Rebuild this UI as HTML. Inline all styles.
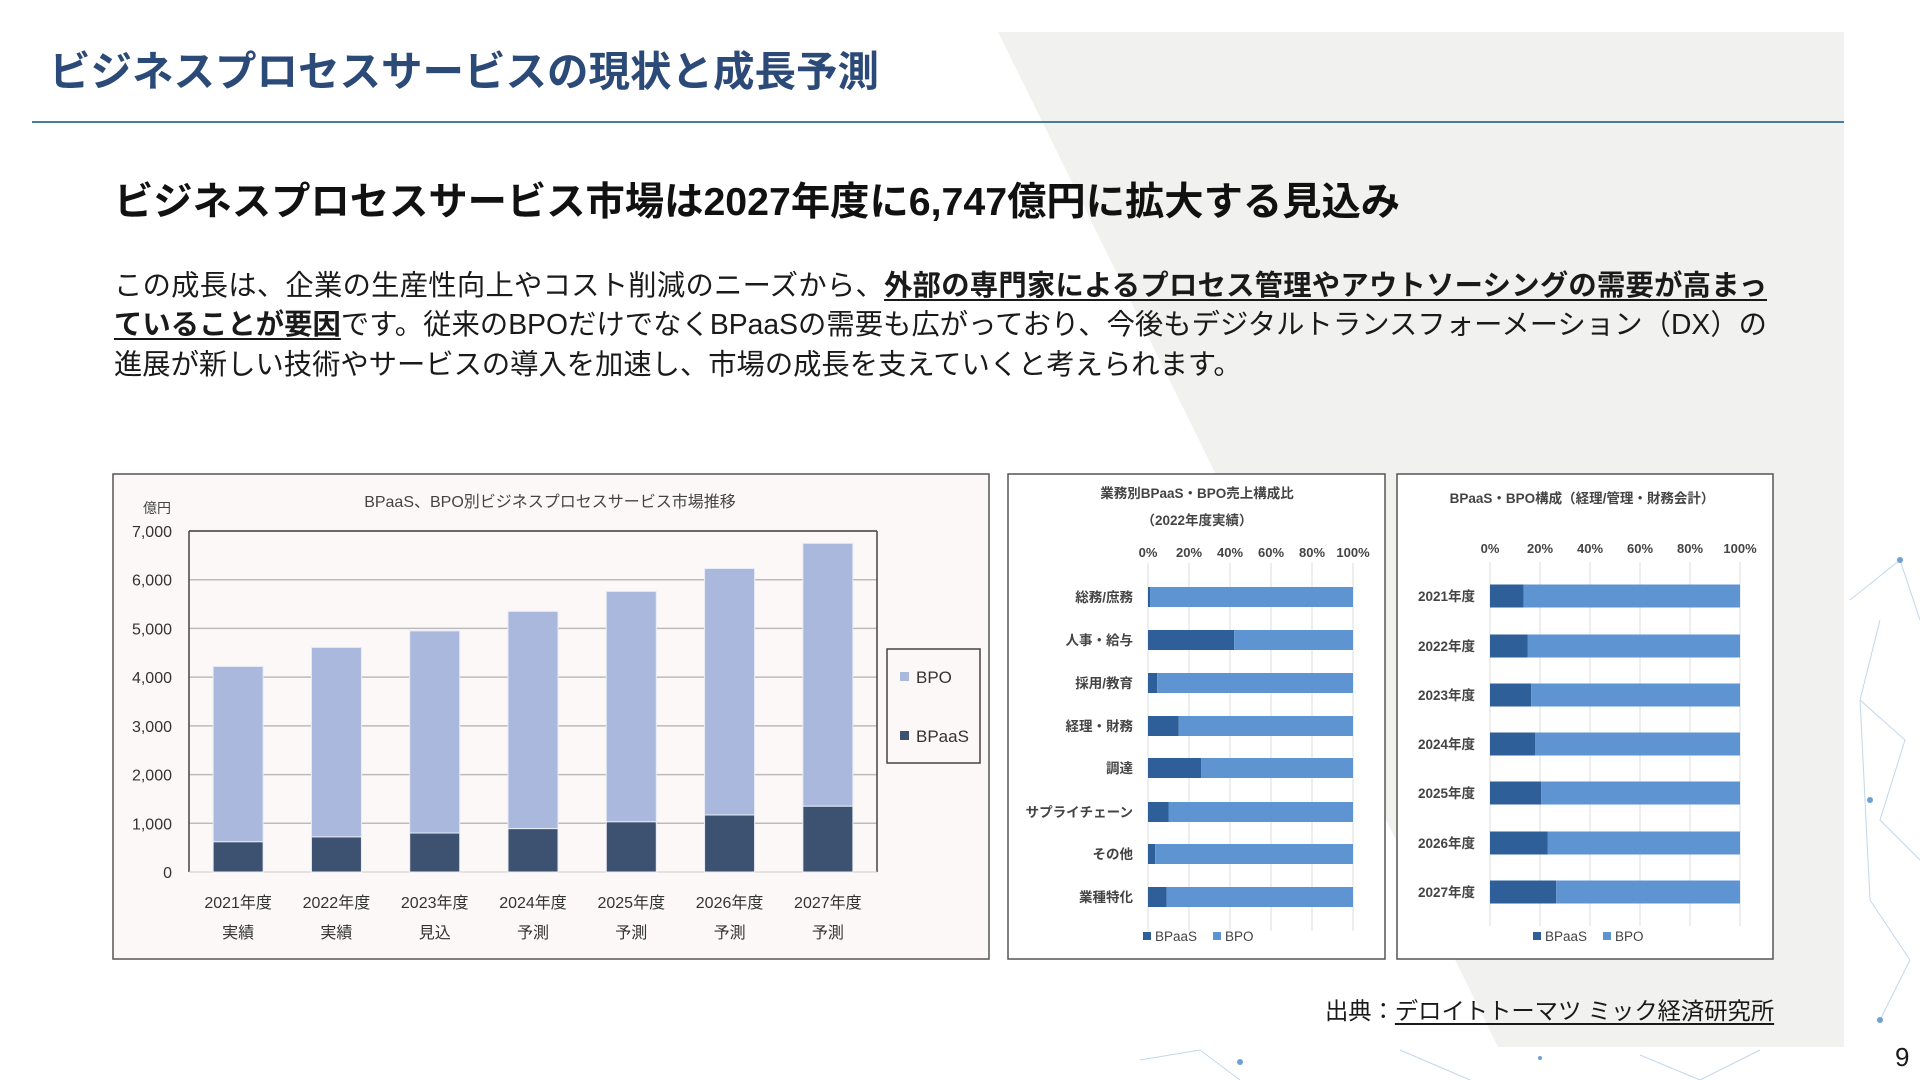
<!DOCTYPE html>
<html><head><meta charset="utf-8">
<style>
*{margin:0;padding:0;box-sizing:border-box}
body{width:1920px;height:1080px;position:relative;overflow:hidden;background:#fff;font-family:"Liberation Sans","Noto Sans CJK JP",sans-serif;color:#1a1a1a}
.abs{position:absolute}
.line{position:absolute;left:114px;width:1653px;font-size:28.3px;line-height:39px;text-align:justify;text-align-last:justify;white-space:nowrap}
u{text-decoration-thickness:2px;text-underline-offset:4px}
</style></head><body>
<svg class="abs" style="left:0;top:0" width="1920" height="1080">
<polygon points="998,32 1844,32 1844,1047 1498,1047" fill="#f1f1ef"/>
<g stroke="#a9c4e0" stroke-width="1" opacity="0.7" fill="none">
<path d="M1850,600 L1900,560 L1920,620 M1860,700 L1905,740 L1880,820 L1920,860 M1870,900 L1910,960 L1880,1020 M1140,1060 L1200,1050 L1240,1080 M1400,1050 L1470,1080 M1640,1055 L1700,1080 L1760,1050 M1880,620 L1860,700 L1870,900"/>
</g>
<g fill="#6fa0d6"><circle cx="1900" cy="560" r="3"/><circle cx="1870" cy="800" r="3"/><circle cx="1880" cy="1020" r="3"/><circle cx="1240" cy="1062" r="3"/><circle cx="1540" cy="1058" r="2"/></g>
<line x1="32" y1="122" x2="1844" y2="122" stroke="#4a7ca0" stroke-width="2"/>
</svg>
<div class="abs" style="left:49px;top:45px;font-size:41.5px;font-weight:bold;color:#2b4a78;line-height:54px">ビジネスプロセスサービスの現状と成長予測</div>
<div class="abs" style="left:114px;top:177px;font-size:39.3px;font-weight:bold;line-height:50px;color:#111">ビジネスプロセスサービス市場は2027年度に6,747億円に拡大する見込み</div>
<div class="line" style="top:266px">この成長は、企業の生産性向上やコスト削減のニーズから、<u><b>外部の専門家によるプロセス管理やアウトソーシングの需要が高まっ</b></u></div>
<div class="line" style="top:305px"><u><b>ていることが要因</b></u>です。従来のBPOだけでなくBPaaSの需要も広がっており、今後もデジタルトランスフォーメーション（DX）の</div>
<div class="line" style="top:345px;text-align-last:left">進展が新しい技術やサービスの導入を加速し、市場の成長を支えていくと考えられます。</div>
<div class="abs" style="left:1325px;top:995px;font-size:23.3px;line-height:32px">出典：<u>デロイトトーマツ ミック経済研究所</u></div>
<div class="abs" style="left:1895px;top:1042px;font-size:26px">9</div>

<svg id="c1" class="abs" style="left:0;top:0" width="1920" height="1080"></svg>

<script>
const years=["2021年度","2022年度","2023年度","2024年度","2025年度","2026年度","2027年度"];
const yearSub=["実績","実績","見込","予測","予測","予測","予測"];
const totals=[4220,4610,4950,5350,5760,6230,6747];
const bpaas=[620,720,800,890,1030,1170,1350];
const yTicks=[0,1000,2000,3000,4000,5000,6000,7000];
const yTickLabels=["0","1,000","2,000","3,000","4,000","5,000","6,000","7,000"];
const cats2=["総務/庶務","人事・給与","採用/教育","経理・財務","調達","サプライチェーン","その他","業種特化"];
const share2=[1,42,4.5,15,26,10,3.5,9];
const cats3=["2021年度","2022年度","2023年度","2024年度","2025年度","2026年度","2027年度"];
const share3=[13.5,15,16.5,18,20.5,23,26.5];
const pctTicks=[0,20,40,60,80,100];

const NS="http://www.w3.org/2000/svg";
const svg=document.getElementById('c1');
function mk(tag,attrs,txt,parent){const e=document.createElementNS(NS,tag);for(const k in attrs)e.setAttribute(k,attrs[k]);if(txt!==undefined)e.textContent=txt;(parent||svg).appendChild(e);return e;}
const F='"Liberation Sans","Noto Sans CJK JP",sans-serif';

// ---- chart 1 ----
let g=mk('g',{});


mk('rect',{x:113,y:474,width:876,height:485,fill:'#fcf8f8',stroke:'#555','stroke-width':1.5},undefined,g);
const L=189,R=877,T=531,B=872,yMax=7000;
const ys=v=>B-(v/yMax)*(B-T);
const bw=(R-L)/years.length;
yTicks.forEach((v,i)=>{
  if(v>0){const gl=mk('line',{x1:L,x2:R,y1:ys(v),y2:ys(v),stroke:'#bbb','stroke-width':1.5},undefined,g);
  }
  const t=mk('text',{x:172,y:ys(v)+6,'text-anchor':'end','font-size':16,fill:'#333','font-family':F},yTickLabels[i],g);
  
});
mk('line',{x1:L,x2:L,y1:T,y2:B,stroke:'#444','stroke-width':1.5},undefined,g);
mk('line',{x1:L,x2:R,y1:T,y2:T,stroke:'#444','stroke-width':1.5},undefined,g);
mk('line',{x1:R,x2:R,y1:T,y2:B,stroke:'#444','stroke-width':1.5},undefined,g);
mk('line',{x1:L,x2:R,y1:B,y2:B,stroke:'#ccc','stroke-width':1},undefined,g);
years.forEach((yr,i)=>{
  const cx=L+bw*(i+0.5),w=50;
  const r1=mk('rect',{x:cx-w/2,y:ys(totals[i]),width:w,height:ys(bpaas[i])-ys(totals[i]),fill:'#a9b8dc',stroke:'#e8ecf5','stroke-width':1},undefined,g);
  
  const r2=mk('rect',{x:cx-w/2,y:ys(bpaas[i]),width:w,height:B-ys(bpaas[i]),fill:'#3d5170',stroke:'#e8ecf5','stroke-width':1},undefined,g);
  
  const t1=mk('text',{x:cx,y:908,'text-anchor':'middle','font-size':16,fill:'#333','font-family':F},yr,g);
  
  const t2=mk('text',{x:cx,y:938,'text-anchor':'middle','font-size':16,fill:'#333','font-family':F},yearSub[i],g);
  
});
let t=mk('text',{x:550,y:507,'text-anchor':'middle','font-size':16,fill:'#444','font-family':F},'BPaaS、BPO別ビジネスプロセスサービス市場推移',g);

t=mk('text',{x:157,y:513,'text-anchor':'middle','font-size':14,fill:'#444','font-family':F},'億円',g);

let lg=mk('g',{},undefined,g);

mk('rect',{x:887,y:649,width:93,height:114,fill:'#fcf8f8',stroke:'#444','stroke-width':1.5},undefined,lg);
mk('rect',{x:900,y:672,width:9,height:9,fill:'#a9b8dc'},undefined,lg);
mk('text',{x:916,y:683,'font-size':17,fill:'#333','font-family':F},'BPO',lg);
mk('rect',{x:900,y:731,width:9,height:9,fill:'#3d5170'},undefined,lg);
mk('text',{x:916,y:742,'font-size':17,fill:'#333','font-family':F},'BPaaS',lg);

// ---- percent charts ----
function pctChart(name,bx,bw2,x0,x1,tickY,cats,vals,bars,barH,titles,titleYs,titleX,legX,labelRight){
  const gg=mk('g',{});
  
  mk('rect',{x:bx,y:474,width:bw2,height:485,fill:'#fff',stroke:'#555','stroke-width':1.5},undefined,gg);
  const xs=p=>x0+(p/100)*(x1-x0);
  titles.forEach((s,i)=>{const tt=mk('text',{x:titleX,y:titleYs[i],'text-anchor':'middle','font-size':13.5,fill:'#444','font-weight':'bold','font-family':F},s,gg);
    });
  const top=bars[0]-34,bot=bars[bars.length-1]+34;
  pctTicks.forEach(p=>{
    const gl=mk('line',{x1:xs(p),x2:xs(p),y1:top,y2:bot,stroke:'#ddd','stroke-width':1},undefined,gg);
    
    const tl=mk('text',{x:xs(p),y:tickY,'text-anchor':'middle','font-size':13,fill:'#444','font-weight':'bold','font-family':F},p+'%',gg);
    
  });
  cats.forEach((c,i)=>{
    const cy=bars[i];
    const a=mk('rect',{x:xs(0),y:cy-barH/2,width:xs(vals[i])-xs(0),height:barH,fill:'#2f5f98'},undefined,gg);
    
    const b=mk('rect',{x:xs(vals[i]),y:cy-barH/2,width:xs(100)-xs(vals[i]),height:barH,fill:'#5e94d2'},undefined,gg);
    
    const l=mk('text',{x:labelRight,y:cy+5,'text-anchor':'end','font-size':13.5,fill:'#444','font-weight':'bold','font-family':F},c,gg);
    
  });
  const lg2=mk('g',{},undefined,gg);
  
  mk('rect',{x:legX,y:932,width:8,height:8,fill:'#2f5f98'},undefined,lg2);
  mk('text',{x:legX+12,y:941,'font-size':13.5,fill:'#444','font-family':F},'BPaaS',lg2);
  mk('rect',{x:legX+70,y:932,width:8,height:8,fill:'#5e94d2'},undefined,lg2);
  mk('text',{x:legX+82,y:941,'font-size':13.5,fill:'#444','font-family':F},'BPO',lg2);
}
const bars2=[597,640,683,726,768,812,854,897];
const bars3=[596,646,695,744,793,843,892];
pctChart('share-by-function-chart',1008,377,1148,1353,557,cats2,share2,bars2,20,['業務別BPaaS・BPO売上構成比','（2022年度実績）'],[498,525],1197,1143,1133);
pctChart('accounting-share-chart',1397,376,1490,1740,553,cats3,share3,bars3,23,['BPaaS・BPO構成（経理/管理・財務会計）'],[503],1582,1533,1475);
</script>
</body></html>
